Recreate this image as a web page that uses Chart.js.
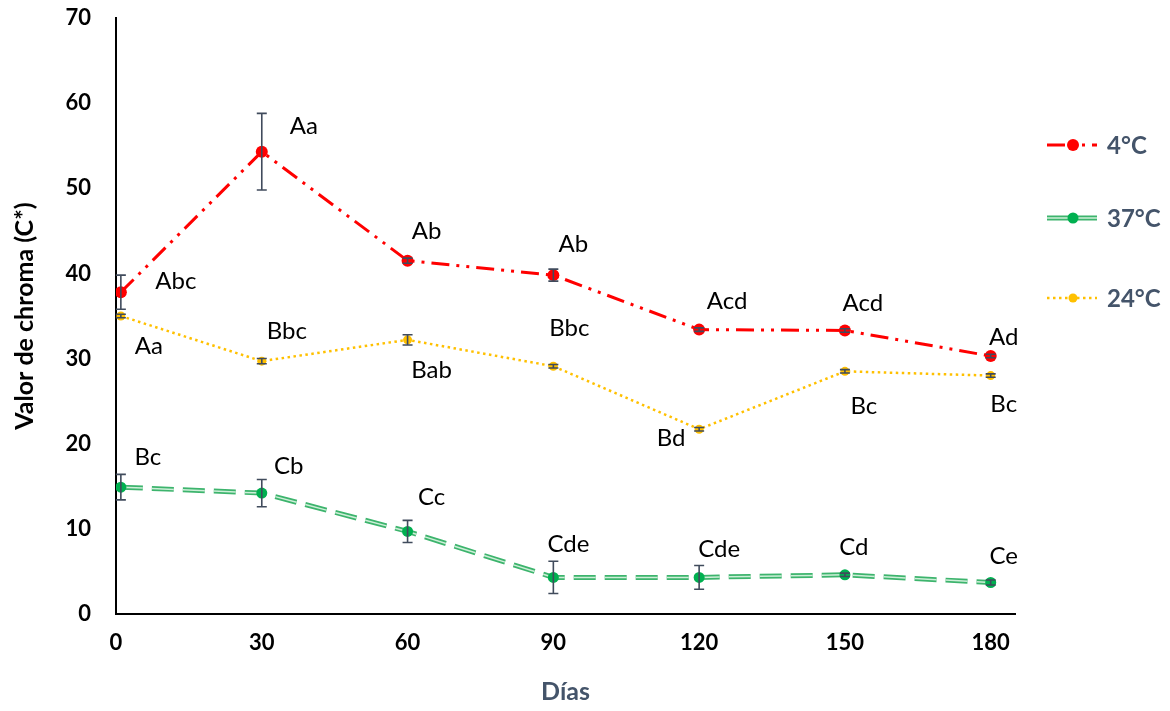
<!DOCTYPE html>
<html>
<head>
<meta charset="utf-8">
<script src="https://cdn.jsdelivr.net/npm/chart.js@4/dist/chart.umd.min.js"></script>
<style>
  html, body { margin: 0; padding: 0; background: #fff; }
  #wrap { width: 1170px; height: 711px; }
</style>
</head>
<body>
<div id="wrap"><canvas id="graph" width="1170" height="711"></canvas></div>
<script>
const days = [1, 30, 60, 90, 120, 150, 180];
const xTicks = [0, 30, 60, 90, 120, 150, 180];

const chroma4 = [37.8, 54.3, 41.5, 39.8, 33.4, 33.3, 30.3];
const err4 = [2.0, 4.5, 0.3, 0.7, 0.2, 0.2, 0.2];
const letters4 = ['Abc', 'Aa', 'Ab', 'Ab', 'Acd', 'Acd', 'Ad'];

const chroma37 = [14.9, 14.2, 9.7, 4.3, 4.3, 4.6, 3.7];
const err37 = [1.5, 1.6, 1.3, 1.9, 1.4, 0.2, 0.3];
const letters37 = ['Bc', 'Cb', 'Cc', 'Cde', 'Cde', 'Cd', 'Ce'];

const chroma24 = [35.0, 29.7, 32.2, 29.1, 21.7, 28.5, 28.0];
const err24 = [0.2, 0.3, 0.6, 0.2, 0.2, 0.2, 0.2];
const letters24 = ['Aa', 'Bbc', 'Bab', 'Bbc', 'Bd', 'Bc', 'Bc'];

// where each letter sits, relative to its point (text centre)
const offsets4 = [[55, -11], [42, -25], [19, -29], [20, -31], [28, -28], [18, -27], [13, -19]];
const offsets37 = [[27, -30], [27, -27], [24, -34], [15, -33], [20, -28], [9, -28], [13, -26]];
const offsets24 = [[28, 30], [25, -30], [24, 30], [16, -38], [-28, 9], [19, 35], [13, 29]];

const toPoints = vals => days.map((d, i) => ({ x: d, y: vals[i] }));

const red = '#FF0000', green = '#3DB46D', greenInner = '#CDEFD8', gold = '#FFC000';
const slate = '#44546A';

const datasets = [
    {
        label: '4°C',
        data: toPoints(chroma4),
        borderColor: red, backgroundColor: red,
        borderWidth: 3, borderDash: [18, 7, 3, 7, 3, 7],
        pointRadius: 6, pointBorderWidth: 0,
        errors: err4, letters: letters4, offsets: offsets4
    },
    {
        label: '37°C',
        data: toPoints(chroma37),
        borderColor: green, backgroundColor: '#00B050',
        borderWidth: 5, borderDash: [22, 9],
        pointRadius: 0,
        errors: err37, letters: letters37, offsets: offsets37,
        inner: greenInner
    },
    {
        label: '24°C',
        data: toPoints(chroma24),
        borderColor: gold, backgroundColor: gold,
        borderWidth: 2.5, borderDash: [2.5, 3.5],
        pointRadius: 4.5, pointBorderWidth: 0,
        errors: err24, letters: letters24, offsets: offsets24
    },
    {
        // light centre of the green double line
        label: '_inner37',
        data: toPoints(chroma37),
        borderColor: greenInner, backgroundColor: '#00B050',
        borderWidth: 1.5, borderDash: [22, 9],
        pointRadius: 5.5, pointBorderWidth: 0,
        order: -1
    }
];

const errorBars = {
    id: 'errorBars',
    afterDatasetsDraw(chart) {
        const { ctx, scales: { x, y } } = chart;
        ctx.save();
        ctx.strokeStyle = '#404B5C';
        ctx.lineWidth = 1.6;
        chart.data.datasets.forEach(ds => {
            if (!ds.errors) return;
            ds.data.forEach((p, i) => {
                const px = x.getPixelForValue(p.x);
                const top = y.getPixelForValue(p.y + ds.errors[i]);
                const bot = y.getPixelForValue(p.y - ds.errors[i]);
                ctx.beginPath();
                ctx.moveTo(px, top); ctx.lineTo(px, bot);
                ctx.moveTo(px - 5, top); ctx.lineTo(px + 5, top);
                ctx.moveTo(px - 5, bot); ctx.lineTo(px + 5, bot);
                ctx.stroke();
            });
        });
        ctx.restore();
    }
};

const letterLabels = {
    id: 'letterLabels',
    afterDraw(chart) {
        const { ctx, scales: { x, y } } = chart;
        ctx.save();
        ctx.font = '24px Lato';
        ctx.fillStyle = '#000';
        ctx.textAlign = 'center';
        ctx.textBaseline = 'middle';
        chart.data.datasets.forEach(ds => {
            if (!ds.letters) return;
            ds.data.forEach((p, i) => {
                const [dx, dy] = ds.offsets[i];
                ctx.fillText(ds.letters[i], x.getPixelForValue(p.x) + dx, y.getPixelForValue(p.y) + dy);
            });
        });
        ctx.restore();
    }
};

const sideLegend = {
    id: 'sideLegend',
    afterDraw(chart) {
        const { ctx } = chart;
        const rows = [145, 218, 298];
        ctx.save();
        chart.data.datasets.filter(ds => !ds.label.startsWith('_')).forEach((ds, i) => {
            const yy = rows[i];
            const x0 = 1047, x1 = 1097, xm = 1073;
            ctx.setLineDash(ds.borderDash);
            ctx.lineWidth = ds.borderWidth;
            ctx.strokeStyle = ds.borderColor;
            ctx.beginPath(); ctx.moveTo(x0, yy); ctx.lineTo(x1, yy); ctx.stroke();
            if (ds.inner) {
                ctx.lineWidth = 1.5;
                ctx.strokeStyle = ds.inner;
                ctx.beginPath(); ctx.moveTo(x0, yy); ctx.lineTo(x1, yy); ctx.stroke();
            }
            ctx.setLineDash([]);
            ctx.fillStyle = ds.backgroundColor;
            ctx.beginPath();
            ctx.arc(xm, yy, ds.pointRadius || 5.5, 0, Math.PI * 2);
            ctx.fill();
            ctx.fillStyle = slate;
            ctx.font = 'bold 24px Lato';
            ctx.textAlign = 'left';
            ctx.textBaseline = 'middle';
            ctx.fillText(ds.label, 1107, yy + 1);
        });
        ctx.restore();
    }
};

const ctx = document.getElementById('graph').getContext('2d');

new Chart(ctx, {
    type: 'line',
    data: { datasets: datasets },
    options: {
        responsive: false,
        animation: false,
        layout: { padding: { left: 0, top: 18, right: 155, bottom: 0 } },
        plugins: {
            legend: { display: false },
            tooltip: { enabled: false }
        },
        scales: {
            x: {
                type: 'linear',
                min: 0, max: 185,
                afterBuildTicks: axis => { axis.ticks = xTicks.map(v => ({ value: v })); },
                afterFit: axis => { axis.height = 97; axis.paddingLeft = 0; axis.paddingRight = 0; },
                grid: { display: false },
                border: { display: true, color: '#000', width: 2 },
                ticks: { color: '#000', font: { family: 'Lato', size: 22, weight: 'bold' }, padding: 8, maxRotation: 0 },
                title: { display: true, text: 'Días', color: slate, font: { family: 'Lato', size: 25, weight: 'bold' }, padding: { top: 23 } }
            },
            y: {
                min: 0, max: 70,
                ticks: { stepSize: 10, color: '#000', font: { family: 'Lato', size: 22, weight: 'bold' }, padding: 17 },
                afterFit: axis => { axis.width = 116; axis.paddingTop = 0; axis.paddingBottom = 0; },
                grid: { display: false },
                border: { display: true, color: '#000', width: 2 },
                title: { display: true, text: 'Valor de chroma (C*)', color: '#000', font: { family: 'Lato', size: 25, weight: 'bold' }, padding: { top: 10, bottom: 0 } }
            }
        }
    },
    plugins: [errorBars, letterLabels, sideLegend]
});
</script>
</body>
</html>
